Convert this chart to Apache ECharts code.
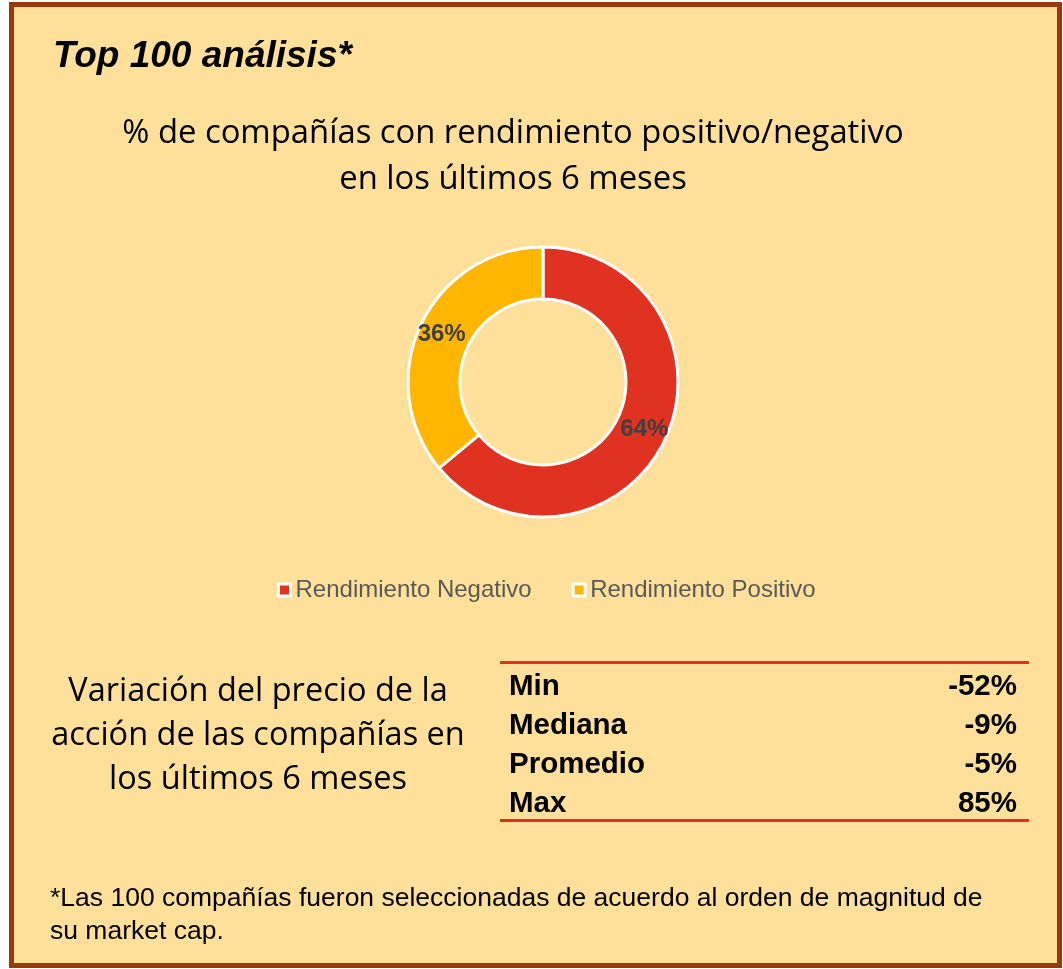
<!DOCTYPE html>
<html lang="es">
<head>
    <meta charset="UTF-8">
    <title>Top 100 análisis</title>
    <style>
        html, body {
            margin: 0;
            padding: 0;
            background: #fff;
        }
        #main {
            width: 1063px;
            height: 969px;
        }
    </style>
    <script src="https://cdn.jsdelivr.net/npm/echarts@6/dist/echarts.min.js"></script>
</head>
<body>
<div id="main"></div>

<script>
// datos del grafico
var sliceNames = ['Rendimiento Negativo', 'Rendimiento Positivo'];
var sliceValues = [64, 36];
var sliceColors = ['#E03220', '#FFB600'];

// tabla de variacion del precio
var statLabels = ['Min', 'Mediana', 'Promedio', 'Max'];
var statValues = ['-52%', '-9%', '-5%', '85%'];

var titleLines = ['% de compañías con rendimiento positivo/negativo', 'en los últimos 6 meses'];
var sideLines = ['Variación del precio de la', 'acción de las compañías en', 'los últimos 6 meses'];
var noteLines = ['*Las 100 compañías fueron seleccionadas de acuerdo al orden de magnitud de', 'su market cap.'];

var BG = '#FFE09A';
var calibri = '"Open Sans", "Noto Sans", sans-serif';
var arial = '"Liberation Sans", Arial, sans-serif';

var pieData = [];
for (var i = 0; i < sliceNames.length; i++) {
    pieData.push({ name: sliceNames[i], value: sliceValues[i], itemStyle: { color: sliceColors[i] } });
}

var graphics = [
    {
        type: 'rect', z: -10, silent: true,
        shape: { x: 11.5, y: 4.5, width: 1048, height: 961 },
        style: { fill: BG, stroke: '#9A3A0A', lineWidth: 5 }
    },
    {
        type: 'text', left: 53, top: 38,
        style: { text: 'Top 100 análisis*', font: 'italic bold 37px ' + arial, fill: '#000' }
    },
    {
        type: 'text', x: 513, y: 111,
        style: { text: titleLines.join('\n'), font: '32.8px ' + calibri, fill: '#000', align: 'center', lineHeight: 46 }
    },
    {
        type: 'text', x: 258, y: 670,
        style: { text: sideLines.join('\n'), font: '32.5px ' + calibri, fill: '#000', align: 'center', lineHeight: 44 }
    },
    {
        type: 'text', x: 50, y: 882,
        style: { text: noteLines.join('\n'), font: '26.5px ' + arial, fill: '#000', lineHeight: 33 }
    },
    {
        type: 'line',
        shape: { x1: 500, y1: 662.5, x2: 1029, y2: 662.5 },
        style: { stroke: '#E03220', lineWidth: 3 }
    },
    {
        type: 'line',
        shape: { x1: 500, y1: 820.5, x2: 1029, y2: 820.5 },
        style: { stroke: '#E03220', lineWidth: 3 }
    }
];

for (var k = 0; k < statLabels.length; k++) {
    var rowY = 687 + k * 39;
    graphics.push({
        type: 'text', x: 509, y: rowY,
        style: { text: statLabels[k], font: 'bold 29.5px ' + arial, fill: '#000', verticalAlign: 'middle' }
    });
    graphics.push({
        type: 'text', x: 1017, y: rowY,
        style: { text: statValues[k], font: 'bold 29.5px ' + arial, fill: '#000', align: 'right', verticalAlign: 'middle' }
    });
}

var chart = echarts.init(document.getElementById('main'));
var option = {
    backgroundColor: '#fff',
    animation: false,
    legend: {
        top: 573,
        left: 272,
        itemWidth: 12,
        itemHeight: 12,
        itemGap: 40,
        icon: 'rect',
        data: sliceNames,
        itemStyle: { borderColor: '#fff', borderWidth: 3 },
        textStyle: { color: '#595959', fontSize: 24, fontFamily: arial }
    },
    series: [
        {
            type: 'pie',
            center: [543, 382],
            radius: [83, 135],
            startAngle: 90,
            clockwise: true,
            data: pieData,
            itemStyle: { borderColor: '#fff', borderWidth: 3 },
            label: {
                show: true,
                position: 'inside',
                formatter: '{d}%',
                color: '#404040',
                fontSize: 24,
                fontWeight: 'bold',
                fontFamily: arial
            },
            labelLine: { show: false },
            emphasis: { disabled: true }
        }
    ],
    graphic: graphics
};
chart.setOption(option);
</script>
</body>
</html>
